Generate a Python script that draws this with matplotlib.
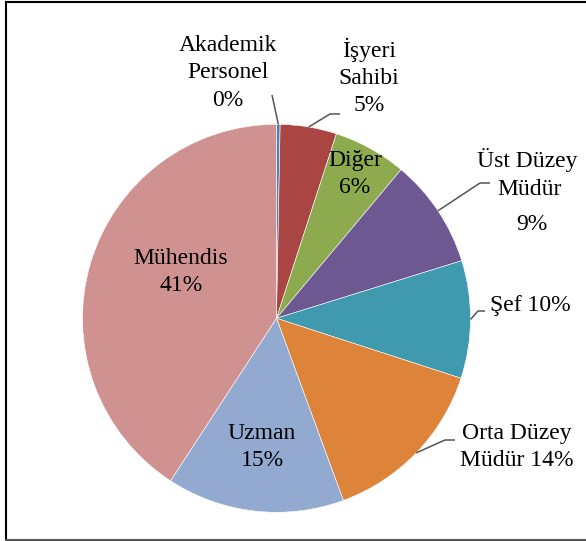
import numpy as np
import matplotlib
matplotlib.use("Agg")
import matplotlib.pyplot as plt
from matplotlib.lines import Line2D

categories = ["Akademik\nPersonel", "İşyeri\nSahibi", "Diğer", "Üst Düzey\nMüdür",
              "Şef", "Orta Düzey\nMüdür", "Uzman", "Mühendis"]
values = [0.3, 4.7, 6.1, 9.1, 9.8, 14.4, 14.8, 40.8]
colors = ["#4F81BD", "#A94644", "#8DAA4E", "#6E5891", "#3F9AB0", "#DD843A", "#92A9D0", "#D09291"]

W, H = 586, 541
CX, CY, R = 276.5, 318.3, 194.0
fig = plt.figure(figsize=(W / 100, H / 100), dpi=100)
ax = fig.add_axes([0, 0, 1, 1])

wedges, _ = ax.pie(values, colors=colors, startangle=90, counterclock=False,
                   radius=1.0, wedgeprops=dict(linewidth=0.4, edgecolor="white"))
ax.set_xlim((0 - CX) / R, (W - CX) / R)
ax.set_ylim((CY - H) / R, CY / R)
ax.set_aspect("auto")
ax.axis("off")


def P(x, y):
    return ((x - CX) / R, (CY - y) / R)


total = sum(values)
pcts = ["%.0f%%" % (v / total * 100) for v in values]

font = dict(family="Liberation Serif", fontsize=17, color="black",
            ha="center", va="center", linespacing=1.39)

labels = [
    (categories[0] + "\n" + pcts[0], (228, 73)),
    (categories[1] + "\n" + pcts[1], (369, 77)),
    (categories[2] + "\n" + pcts[2], (355, 174)),
    (None, None),
    (categories[4] + " " + pcts[4], (530, 306)),
    (categories[5] + " " + pcts[5], (517, 447)),
    (categories[6] + "\n" + pcts[6], (262, 447)),
    (categories[7] + "\n" + pcts[7], (181, 272)),
]
for txt, pos in labels:
    if txt:
        ax.text(*P(*pos), txt, **font)

# Üst Düzey Müdür label with staggered lines
ust1, ust2 = categories[3].split("\n")
ax.text(*P(527, 160), ust1, **font)
ax.text(*P(530, 190), ust2, **font)
ax.text(*P(532, 225), pcts[3], **font)

# leader lines from wedge mid-angles
leaders = {0: [(272, 95)], 1: [(330, 114), (340, 114)], 3: [(480, 183), (490, 183)],
           4: [(478, 311), (485, 311)], 5: [(445, 440), (455, 440)]}
cum = np.cumsum([0] + values)
for i, pts in leaders.items():
    mid = (cum[i] + cum[i + 1]) / 2 / total
    ang = np.deg2rad(90 - 360 * mid)
    xs = [np.cos(ang)] + [P(*p)[0] for p in pts]
    ys = [np.sin(ang)] + [P(*p)[1] for p in pts]
    ax.plot(xs, ys, color="#555555", lw=1.1, solid_capstyle="butt")

# outer frame (left, top, bottom)
fig.add_artist(Line2D([5.5 / W, 5.5 / W], [1.5 / H, 1 - 1.5 / H], color="black", lw=1.5,
                      transform=fig.transFigure))
fig.add_artist(Line2D([5.5 / W, 1], [1 - 1.5 / H, 1 - 1.5 / H], color="black", lw=1.5,
                      transform=fig.transFigure))
fig.add_artist(Line2D([5.5 / W, 1], [1.5 / H, 1.5 / H], color="#555555", lw=1.5,
                      transform=fig.transFigure))

fig.savefig("out.png", dpi=100)
